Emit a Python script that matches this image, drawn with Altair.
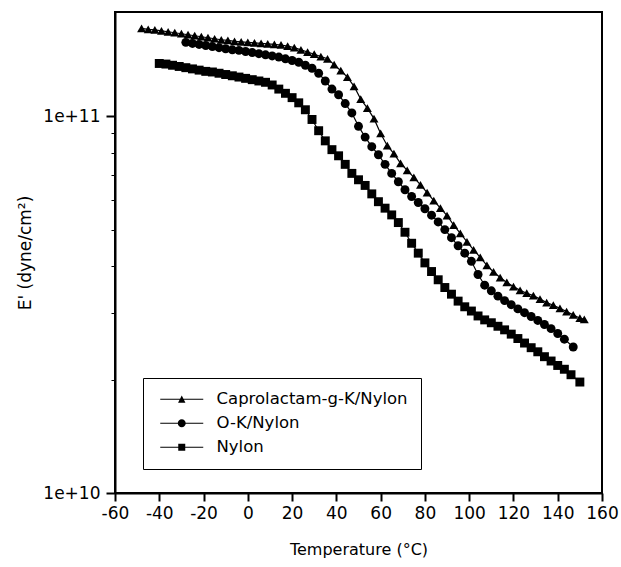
import altair as alt
import pandas as pd

# --- data (E' in units of 1e10 dyne/cm^2) ---
cap_T = [-48, -45, -42, -39, -36, -33, -30, -27, -24, -21, -18, -15, -12, -9, -6, -3, 0, 3, 6, 9,
         12, 15, 18, 21, 24, 27, 30, 33, 36, 39, 42, 45, 48, 51, 54, 57, 60, 63, 66, 69,
         72, 75, 78, 81, 84, 87, 90, 93, 96, 99, 102, 105, 108, 111, 114, 117, 120, 123, 126, 129,
         132, 135, 138, 141, 144, 147, 150, 152]
cap_E = [17.1, 17.0, 16.95, 16.85, 16.75, 16.65, 16.55, 16.45, 16.35, 16.25, 16.15, 16.05, 15.95, 15.9, 15.8, 15.75, 15.7, 15.65, 15.6, 15.55,
         15.5, 15.45, 15.35, 15.2, 15.0, 14.8, 14.6, 14.4, 14.2, 13.7, 13.2, 12.7, 12.0, 11.1, 10.5, 9.85, 9.0, 8.35, 7.95, 7.5,
         7.18, 6.88, 6.57, 6.27, 5.97, 5.70, 5.45, 5.14, 4.89, 4.64, 4.42, 4.22, 4.02, 3.86, 3.73, 3.62, 3.53, 3.45, 3.39, 3.34,
         3.27, 3.20, 3.15, 3.09, 3.03, 2.97, 2.91, 2.89]

ok_T = [-28, -25, -22, -19, -16, -13, -10, -7, -4, -1, 2, 5, 8, 11, 14, 17, 20, 23, 26, 29,
        32, 35, 38, 41, 44, 47, 50, 53, 56, 59, 62, 65, 68, 71, 74, 77, 80, 83, 86, 89,
        92, 95, 98, 101, 104, 107, 110, 113, 116, 119, 122, 125, 128, 131, 134, 137, 140, 143, 147]
ok_E = [15.7, 15.6, 15.5, 15.4, 15.3, 15.2, 15.1, 15.0, 14.95, 14.85, 14.75, 14.65, 14.55, 14.45, 14.35, 14.2, 14.05, 13.9, 13.65, 13.4,
        13.0, 12.4, 11.8, 11.4, 10.8, 10.2, 9.4, 8.8, 8.3, 7.9, 7.45, 7.05, 6.7, 6.38, 6.12, 5.9, 5.68, 5.46, 5.24, 5.0,
        4.76, 4.53, 4.33, 4.12, 3.8, 3.56, 3.44, 3.33, 3.24, 3.16, 3.08, 3.01, 2.94, 2.87, 2.8, 2.73, 2.65, 2.56, 2.44]

ny_T = [-40, -37, -34, -31, -28, -25, -22, -19, -16, -13, -10, -7, -4, -1, 2, 5, 8, 11, 14, 17,
        20, 23, 26, 29, 32, 35, 38, 41, 44, 47, 50, 53, 56, 59, 62, 65, 68, 71, 74, 77,
        80, 83, 86, 89, 92, 95, 98, 101, 104, 107, 110, 113, 116, 119, 122, 125, 128, 131, 134, 137,
        140, 143, 146, 150]
ny_E = [13.8, 13.75, 13.65, 13.55, 13.45, 13.35, 13.25, 13.15, 13.1, 13.0, 12.9, 12.8, 12.7, 12.6, 12.5, 12.4, 12.3, 12.1, 11.8, 11.5,
        11.2, 10.85, 10.4, 9.8, 9.15, 8.6, 8.15, 7.85, 7.45, 7.05, 6.78, 6.55, 6.22, 5.93, 5.70, 5.47, 5.22, 4.92, 4.60, 4.33,
        4.08, 3.87, 3.68, 3.51, 3.37, 3.23, 3.12, 3.04, 2.95, 2.88, 2.83, 2.77, 2.71, 2.64, 2.57, 2.50, 2.43, 2.37, 2.30, 2.24,
        2.18, 2.13, 2.06, 1.97]

series_names = ["Caprolactam-g-K/Nylon", "O-K/Nylon", "Nylon"]
x_ticks = [-60, -40, -20, 0, 20, 40, 60, 80, 100, 120, 140, 160]
y_ticks = [1e10, 2e10, 3e10, 4e10, 5e10, 6e10, 7e10, 8e10, 9e10, 1e11]

rows = []
for name, xs, es in zip(series_names, [cap_T, ok_T, ny_T], [cap_E, ok_E, ny_E]):
    for t, e in zip(xs, es):
        rows.append({"series": name, "T": t, "E": e * 1e10})
df = pd.DataFrame(rows)

FONT = "DejaVu Sans"

# legend symbols: line segment + marker (custom paths)
line_p = "M-1,-0.13 H9.75 V0.13 H-1 Z "
leg_shapes = [
    line_p + "M3.45,0.85 L4.375,-0.95 L5.3,0.85 Z",
    line_p + "M3.375,0 A1,1 0 1,1 5.375,0 A1,1 0 1,1 3.375,0 Z",
    line_p + "M3.5,-0.875 H5.25 V0.875 H3.5 Z",
]

x_enc = alt.X("T:Q", scale=alt.Scale(domain=[-60, 160], nice=False),
              axis=alt.Axis(values=x_ticks, title="Temperature (°C)", tickSize=8, tickWidth=2,
                            labelExpr="'' + datum.value", labelOverlap=False, labelFlush=False,
                            labelFontSize=17, labelPadding=4, titlePadding=20, grid=False))
y_enc = alt.Y("E:Q", scale=alt.Scale(type="log", domain=[1e10, 1.89e11], nice=False),
              axis=alt.Axis(values=y_ticks, format=".0e", title="E' (dyne/cm²)",
                            labelExpr="datum.value == 1e10 || datum.value == 1e11 ? datum.label : ''",
                            tickSize={"condition": {"test": "datum.value == 1e10 || datum.value == 1e11", "value": 9}, "value": 4},
                            tickWidth={"condition": {"test": "datum.value == 1e10 || datum.value == 1e11", "value": 2}, "value": 1},
                            labelFontSize=17, labelPadding=6, titlePadding=8, titleFontSize=17,
                            grid=False, labelOverlap=False, labelFlush=False))

base = alt.Chart(df)

lines = base.mark_line(color="black", strokeWidth=1.2).encode(
    x=x_enc, y=y_enc, detail="series:N")

points = base.mark_point(filled=True, color="black", size=80, opacity=1).encode(
    x=x_enc, y=y_enc,
    shape=alt.Shape("series:N", scale=alt.Scale(domain=series_names, range=["triangle-up", "circle", "square"]),
                    legend=None))

legend_layer = base.mark_point(filled=True, color="black", opacity=0).encode(
    x=x_enc, y=y_enc,
    shape=alt.Shape("series:N", scale=alt.Scale(domain=series_names, range=leg_shapes),
                    legend=alt.Legend(title=None, orient="none", legendX=28, legendY=366,
                                      symbolSize=64, symbolOpacity=1, symbolFillColor="black",
                                      symbolStrokeWidth=0, labelOffset=44, labelFontSize=16.5,
                                      labelFont=FONT, labelColor="black", rowPadding=7,
                                      padding=13, strokeColor="black", fillColor="white",
                                      labelLimit=400)))

chart = alt.layer(lines, points, legend_layer).resolve_scale(shape="independent").properties(
    width=487, height=481,
    autosize=alt.AutoSizeParams(type="none"),
    padding={"left": 115, "top": 12, "right": 19, "bottom": 74},
).configure_view(stroke="black", strokeWidth=2).configure_axis(
    domainColor="black", domainWidth=2, tickColor="black",
    labelFont=FONT, labelColor="black",
    titleFont=FONT, titleFontSize=16, titleFontWeight="normal", titleColor="black",
)

chart.save("out.html", embed_options={"renderer": "svg", "actions": False})
